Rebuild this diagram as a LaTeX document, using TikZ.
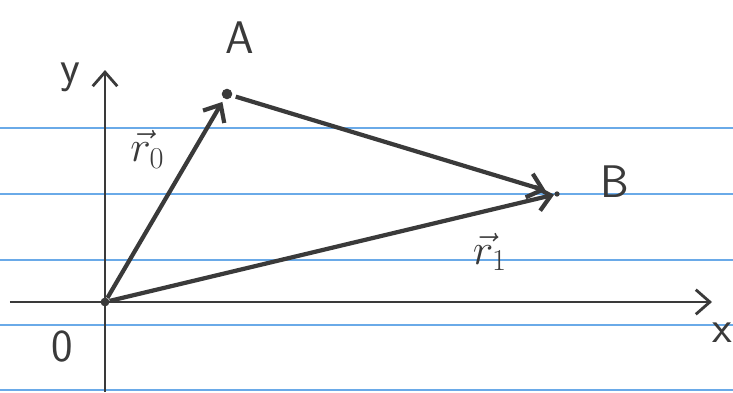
\documentclass[tikz,border=0pt]{standalone}
\usepackage{tikz}
\usetikzlibrary{arrows.meta,positioning}
\usepackage{xcolor}
\usepackage{amsmath}
\definecolor{ink}{HTML}{3A3A3A}
\definecolor{rule}{HTML}{6AAAE8}

\begin{document}
\begin{tikzpicture}[
  >={Straight Barb[length=8pt,width=14pt]},
  ruleline/.style={color=rule, line width=1.5pt},
  axis/.style={->, color=ink, line width=1.6pt},
  vec/.style={->, color=ink, line width=2.4pt},
  lbl/.style={font=\fontsize{26}{30}\selectfont\sffamily, text=ink},
  dot/.style={circle, fill=ink, inner sep=0pt, minimum size=6pt},
]
\useasboundingbox (0,0) rectangle (14.66,7.84);

% lined paper
\foreach \y in {5.28, 3.96, 2.64, 1.34, 0.04}
  \draw[ruleline] (0,\y) -- (14.66,\y);

% axes
\coordinate (xs) at (0.2, 1.8);
\coordinate (xe) at (14.24, 1.8);
\coordinate (ys) at (2.1, 0);
\coordinate (ye) at (2.1, 6.44);
\draw[axis] (xs) -- (xe);
\draw[axis] (ys) -- (ye);

\node[lbl] (xl) at (14.44, 1.18) {x};
\node[lbl] (yl) at (1.4, 6.3) {y};
\node[lbl] (Ol) at (1.24, 0.9) {0};

% points
\node[dot, minimum size=5pt] (O) at (2.1, 1.8) {};
\node[dot] (A) at (4.54, 5.96) {};
\node[dot, minimum size=3pt] (B) at (11.14, 3.96) {};
\node[lbl] (Al) at (4.8, 7.08) {A};
\node[lbl] (Bl) at (12.3, 4.2) {B};

% vectors
\draw[vec, shorten >=2pt] (O) -- (A);
\draw[vec] (O) -- (B);
\draw[vec, shorten <=2pt, shorten >=5pt] (A) -- (B);

\node[lbl] (r0) at (2.95, 4.85) {$\vec{r}_0$};
\node[lbl] (r1) at (9.8, 2.8) {$\vec{r}_1$};

\end{tikzpicture}
\end{document}
